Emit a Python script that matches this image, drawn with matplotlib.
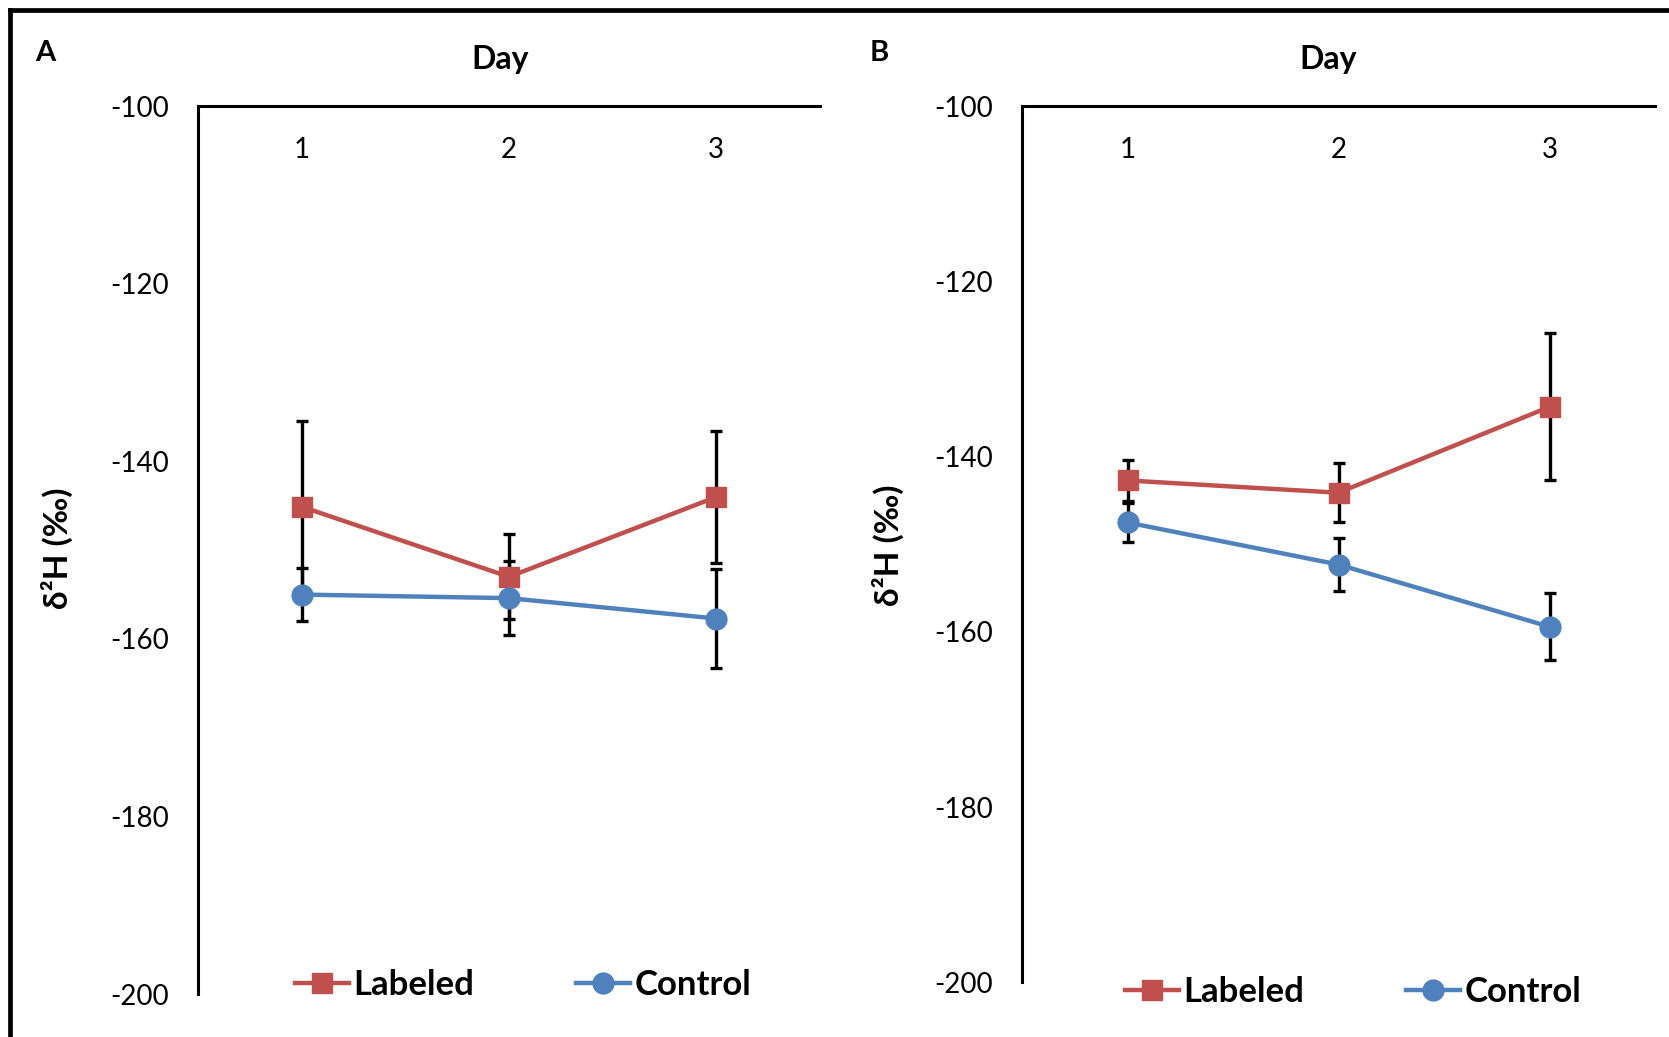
import matplotlib
matplotlib.use("Agg")
import matplotlib.pyplot as plt
from matplotlib.lines import Line2D

plt.rcParams['font.family'] = ['Lato', 'DejaVu Sans']

# Day on the x axis, delta-2H values (permil) with error bars
days = [1, 2, 3]
day_labels = ['1', '2', '3']

# Panel A
labeled_a = [-145.1, -153.0, -144.0]
labeled_a_err = [9.6, 4.8, 7.4]
control_a = [-155.0, -155.4, -157.7]
control_a_err = [3.0, 4.2, 5.6]

# Panel B
labeled_b = [-142.7, -144.1, -134.3]
labeled_b_err = [2.3, 3.4, 8.4]
control_b = [-147.5, -152.3, -159.4]
control_b_err = [2.2, 3.0, 3.8]

y_ticks = [-200, -180, -160, -140, -120, -100]

RED = '#C0504D'
BLUE = '#4F81BD'

W, H = 1669, 1037
fig = plt.figure(figsize=(W / 100, H / 100), dpi=100)


def px_box(x0, y_top, x1, y_bot):
    """ Converts a pixel box (origin top-left) to figure fractions. """
    return [x0 / W, 1 - y_bot / H, (x1 - x0) / W, (y_bot - y_top) / H]


def draw_panel(box, labeled, labeled_err, control, control_err,
               letter, letter_xy, day_x, ylabel_xy, legend_xy):
    """ Draws one panel with its two series, error bars and legend. """
    ax = fig.add_axes(px_box(*box))

    ax.errorbar(days, labeled, yerr=labeled_err, fmt='none', ecolor='black',
                elinewidth=2.4, capsize=4.3, capthick=2.4, zorder=2)
    ax.errorbar(days, control, yerr=control_err, fmt='none', ecolor='black',
                elinewidth=2.4, capsize=4.3, capthick=2.4, zorder=2)

    ax.plot(days, labeled, color=RED, lw=3.2, marker='s', ms=14.5,
            label='Labeled', zorder=3)
    ax.plot(days, control, color=BLUE, lw=3.2, marker='o', ms=15,
            label='Control', zorder=3)

    ax.set_xlim(0.5, 3.5)
    ax.set_ylim(-200, -100)
    ax.set_yticks(y_ticks)
    ax.set_yticklabels([str(t) for t in y_ticks])
    ax.set_xticks(days)
    ax.set_xticklabels(day_labels)

    for side in ['bottom', 'right']:
        ax.spines[side].set_visible(False)
    for side in ['top', 'left']:
        ax.spines[side].set_linewidth(2.2)
    ax.spines['left'].set_capstyle('projecting')

    ax.tick_params(axis='y', left=False, length=0, pad=21, labelsize=20)
    ax.tick_params(axis='x', top=False, bottom=False, length=0,
                   labeltop=True, labelbottom=False, pad=-41, labelsize=20)

    fig.text(day_x / W, 1 - 60 / H, 'Day', ha='center', va='center',
             fontsize=23, fontweight='bold')
    fig.text(letter_xy[0] / W, 1 - letter_xy[1] / H, letter,
             ha='center', va='center', fontsize=21, fontweight='bold')
    fig.text(ylabel_xy[0] / W, 1 - ylabel_xy[1] / H, 'δ²H (‰)',
             ha='center', va='center', rotation=90,
             fontsize=24, fontweight='bold')

    ax.legend(loc='center left', ncol=2, frameon=False,
              bbox_to_anchor=(legend_xy[0] / W, 1 - legend_xy[1] / H),
              bbox_transform=fig.transFigure, borderpad=0, borderaxespad=0,
              handlelength=1.55, handletextpad=0.12, columnspacing=2.95,
              prop={'size': 25, 'weight': 'bold'})
    return ax


draw_panel((198, 106.4, 820, 994), labeled_a, labeled_a_err,
           control_a, control_a_err, 'A', (45, 53), 500, (57, 548),
           (295, 985))
draw_panel((1022, 106.4, 1655, 982.4), labeled_b, labeled_b_err,
           control_b, control_b_err, 'B', (879, 53), 1328, (888, 545),
           (1125, 992))

# Outer frame (top and left edges)
fig.add_artist(Line2D([10 / W, 1], [1 - 10 / H, 1 - 10 / H],
                      color='black', lw=3.4, transform=fig.transFigure))
fig.add_artist(Line2D([10 / W, 10 / W], [0, 1 - 10 / H],
                      color='black', lw=3.4, transform=fig.transFigure))

fig.savefig('out.png', dpi=100)
